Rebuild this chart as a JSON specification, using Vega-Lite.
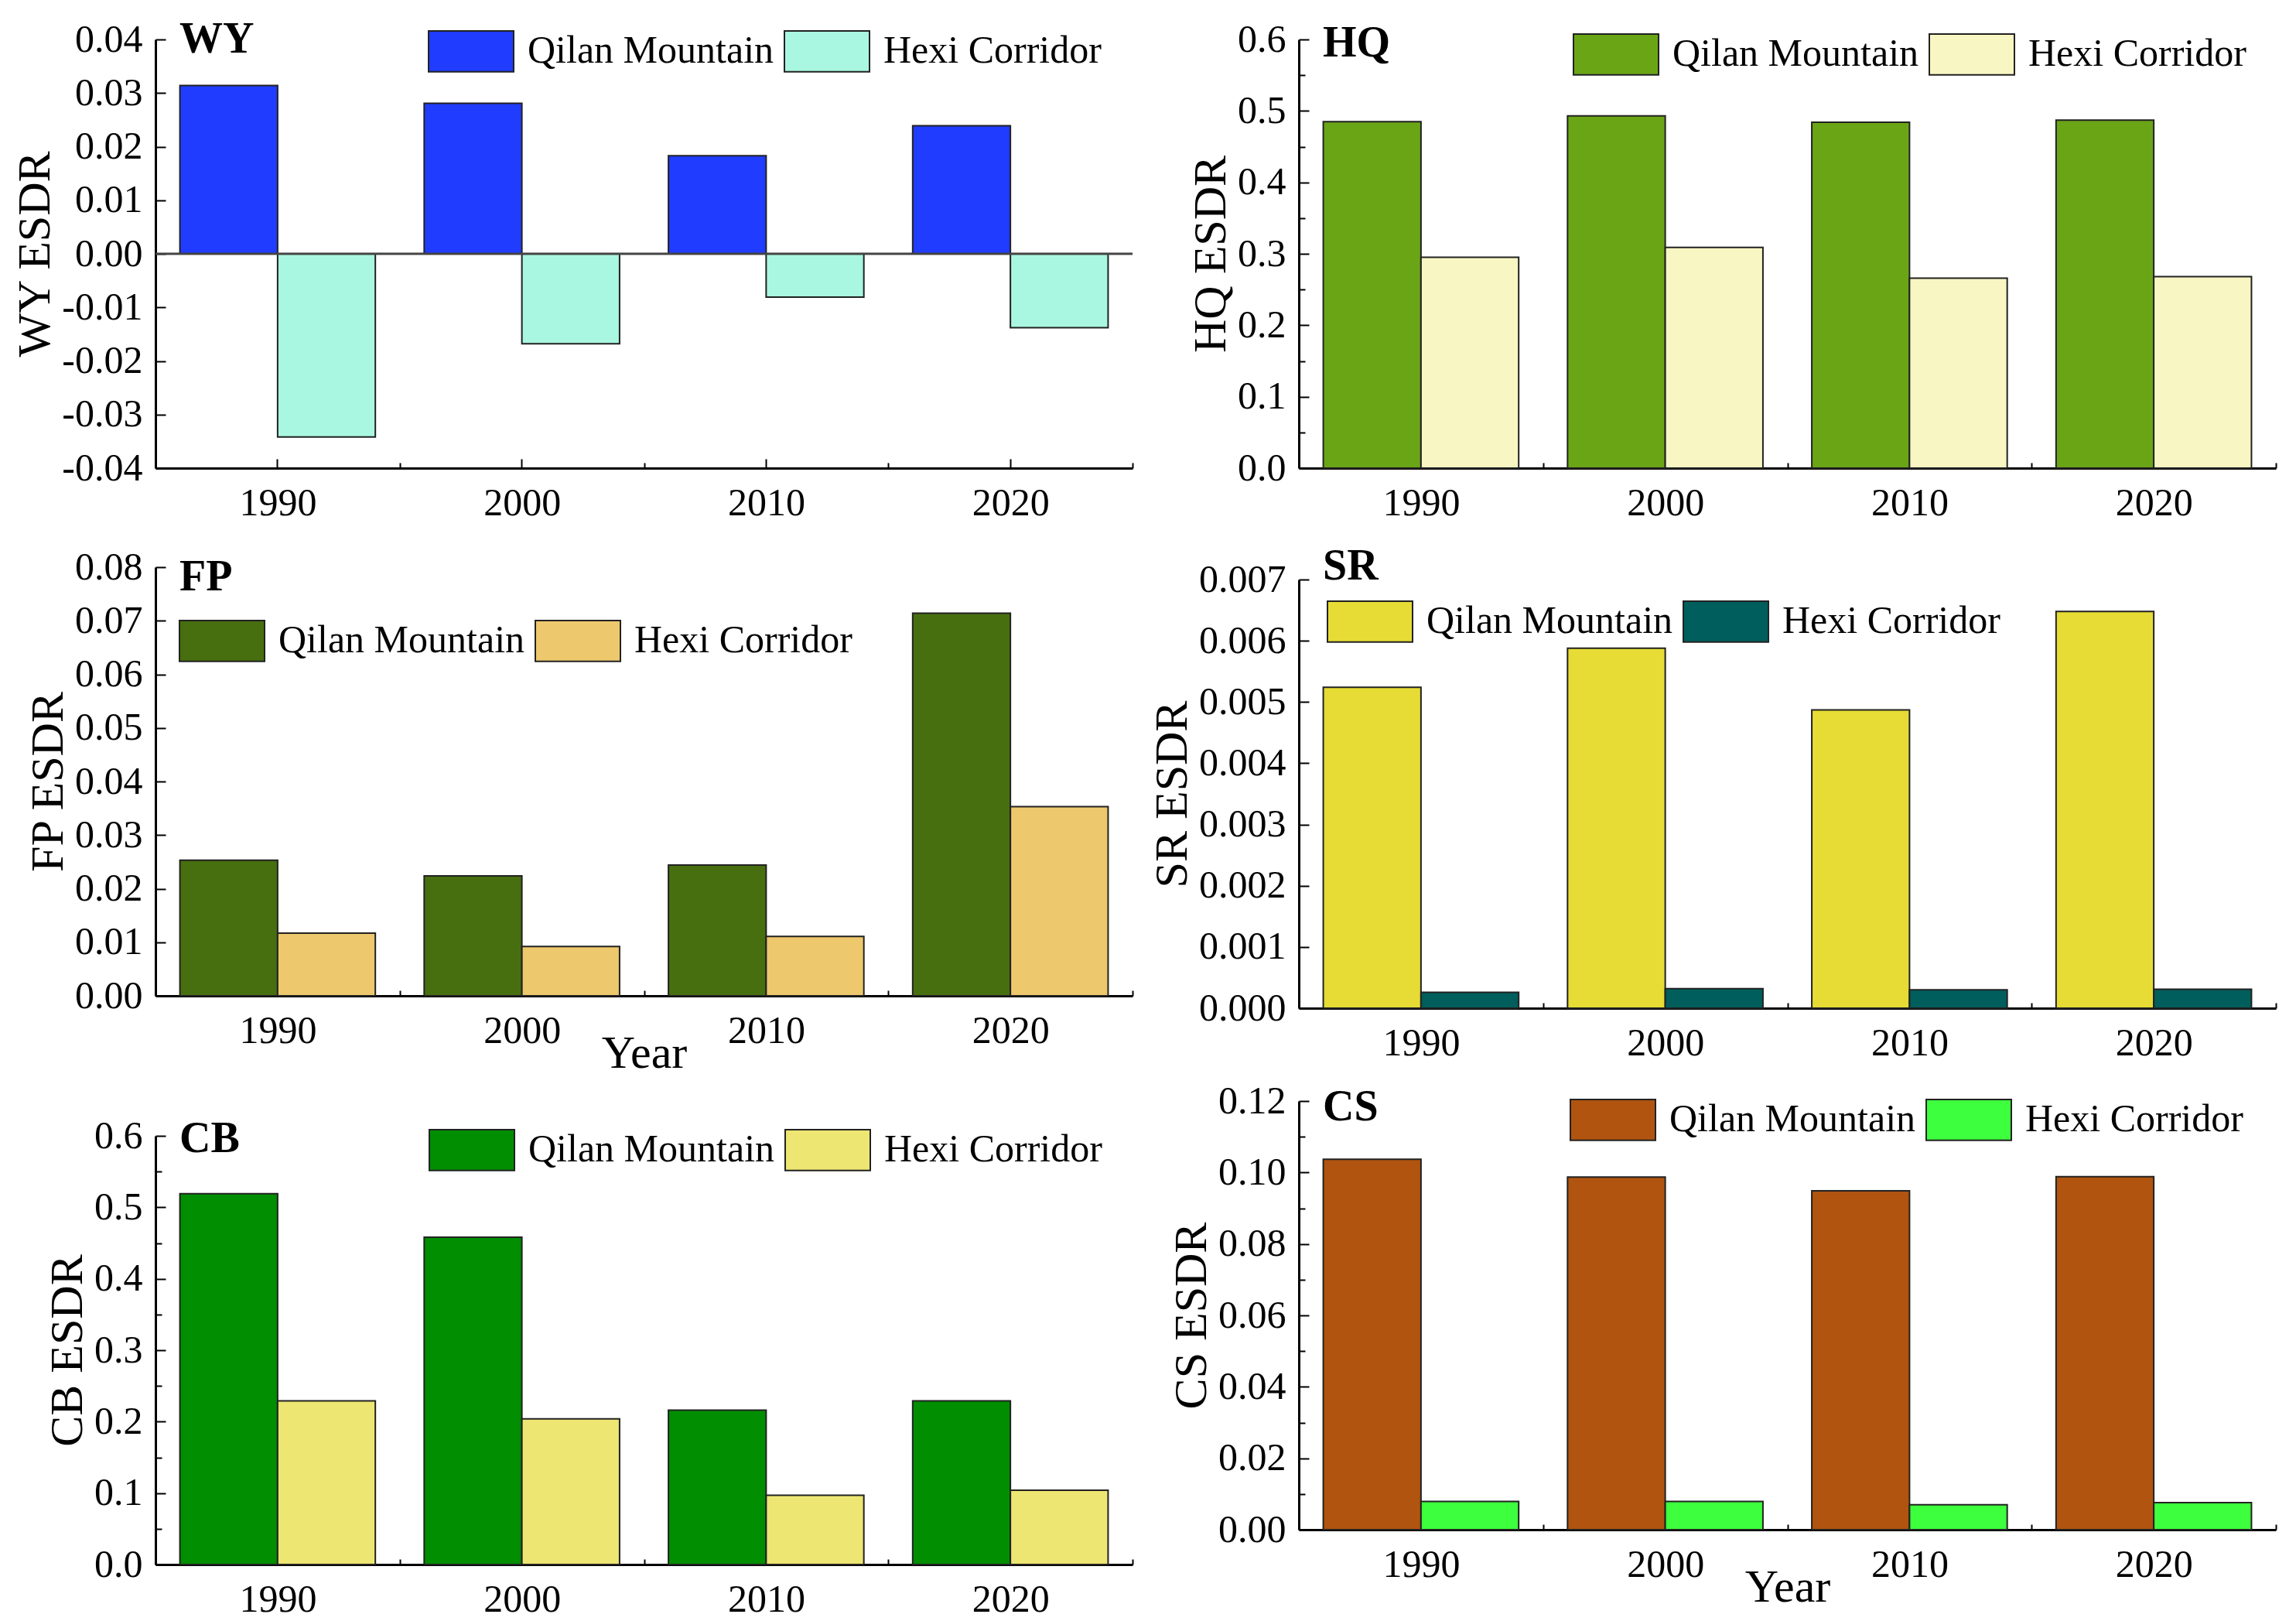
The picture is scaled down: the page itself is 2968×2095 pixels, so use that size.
{
  "$schema": "https://vega.github.io/schema/vega-lite/v6.json",
  "padding": {"left": 15, "top": 10, "right": 5, "bottom": 5},
  "background": "white",
  "datasets": {
    "esdr": [
      {"service": "WY", "year": "1990", "region": "Qilan Mountain", "value": 0.0314},
      {"service": "WY", "year": "2000", "region": "Qilan Mountain", "value": 0.0281},
      {"service": "WY", "year": "2010", "region": "Qilan Mountain", "value": 0.0183},
      {"service": "WY", "year": "2020", "region": "Qilan Mountain", "value": 0.0239},
      {"service": "WY", "year": "1990", "region": "Hexi Corridor", "value": -0.0342},
      {"service": "WY", "year": "2000", "region": "Hexi Corridor", "value": -0.0168},
      {"service": "WY", "year": "2010", "region": "Hexi Corridor", "value": -0.0081},
      {"service": "WY", "year": "2020", "region": "Hexi Corridor", "value": -0.0138},
      {"service": "HQ", "year": "1990", "region": "Qilan Mountain", "value": 0.485},
      {"service": "HQ", "year": "2000", "region": "Qilan Mountain", "value": 0.493},
      {"service": "HQ", "year": "2010", "region": "Qilan Mountain", "value": 0.484},
      {"service": "HQ", "year": "2020", "region": "Qilan Mountain", "value": 0.487},
      {"service": "HQ", "year": "1990", "region": "Hexi Corridor", "value": 0.295},
      {"service": "HQ", "year": "2000", "region": "Hexi Corridor", "value": 0.309},
      {"service": "HQ", "year": "2010", "region": "Hexi Corridor", "value": 0.266},
      {"service": "HQ", "year": "2020", "region": "Hexi Corridor", "value": 0.268},
      {"service": "FP", "year": "1990", "region": "Qilan Mountain", "value": 0.0253},
      {"service": "FP", "year": "2000", "region": "Qilan Mountain", "value": 0.0224},
      {"service": "FP", "year": "2010", "region": "Qilan Mountain", "value": 0.0244},
      {"service": "FP", "year": "2020", "region": "Qilan Mountain", "value": 0.0714},
      {"service": "FP", "year": "1990", "region": "Hexi Corridor", "value": 0.0117},
      {"service": "FP", "year": "2000", "region": "Hexi Corridor", "value": 0.0092},
      {"service": "FP", "year": "2010", "region": "Hexi Corridor", "value": 0.0111},
      {"service": "FP", "year": "2020", "region": "Hexi Corridor", "value": 0.0353},
      {"service": "SR", "year": "1990", "region": "Qilan Mountain", "value": 0.00524},
      {"service": "SR", "year": "2000", "region": "Qilan Mountain", "value": 0.00588},
      {"service": "SR", "year": "2010", "region": "Qilan Mountain", "value": 0.00487},
      {"service": "SR", "year": "2020", "region": "Qilan Mountain", "value": 0.00648},
      {"service": "SR", "year": "1990", "region": "Hexi Corridor", "value": 0.00026},
      {"service": "SR", "year": "2000", "region": "Hexi Corridor", "value": 0.00032},
      {"service": "SR", "year": "2010", "region": "Hexi Corridor", "value": 0.0003},
      {"service": "SR", "year": "2020", "region": "Hexi Corridor", "value": 0.00031},
      {"service": "CB", "year": "1990", "region": "Qilan Mountain", "value": 0.519},
      {"service": "CB", "year": "2000", "region": "Qilan Mountain", "value": 0.458},
      {"service": "CB", "year": "2010", "region": "Qilan Mountain", "value": 0.216},
      {"service": "CB", "year": "2020", "region": "Qilan Mountain", "value": 0.229},
      {"service": "CB", "year": "1990", "region": "Hexi Corridor", "value": 0.229},
      {"service": "CB", "year": "2000", "region": "Hexi Corridor", "value": 0.204},
      {"service": "CB", "year": "2010", "region": "Hexi Corridor", "value": 0.097},
      {"service": "CB", "year": "2020", "region": "Hexi Corridor", "value": 0.104},
      {"service": "CS", "year": "1990", "region": "Qilan Mountain", "value": 0.1037},
      {"service": "CS", "year": "2000", "region": "Qilan Mountain", "value": 0.0987},
      {"service": "CS", "year": "2010", "region": "Qilan Mountain", "value": 0.0949},
      {"service": "CS", "year": "2020", "region": "Qilan Mountain", "value": 0.0988},
      {"service": "CS", "year": "1990", "region": "Hexi Corridor", "value": 0.0079},
      {"service": "CS", "year": "2000", "region": "Hexi Corridor", "value": 0.0079},
      {"service": "CS", "year": "2010", "region": "Hexi Corridor", "value": 0.007},
      {"service": "CS", "year": "2020", "region": "Hexi Corridor", "value": 0.0076}
    ]
  },
  "hconcat": [
    {
      "vconcat": [
        {
          "width": 1263, "height": 554,
          "resolve": {"axis": {"x": "independent"}},
          "layer": [
            {
              "data": {"name": "esdr"},
              "transform": [{"filter": "datum.service === 'WY'"}],
              "mark": {"type": "bar", "stroke": "#222", "strokeWidth": 2},
              "encoding": {
                "x": {"field": "year", "type": "nominal", "scale": {"paddingInner": 0, "paddingOuter": 0}, "axis": {"title": null}},
                "xOffset": {"field": "region", "type": "nominal", "sort": ["Qilan Mountain", "Hexi Corridor"], "scale": {"paddingInner": 0, "paddingOuter": 0.25}},
                "y": {"field": "value", "type": "quantitative", "scale": {"domain": [-0.04, 0.04], "nice": false},
                  "axis": {"title": "WY ESDR",
                    "values": [-0.04, -0.035, -0.03, -0.025, -0.02, -0.015, -0.01, -0.005, 0, 0.005, 0.01, 0.015, 0.02, 0.025, 0.03, 0.035, 0.04],
                    "labelExpr": "abs(round(datum.value*200)) % 2 == 0 ? replace(format(datum.value, '.2f'), '\u2212', '-') : ''",
                    "tickSize": {"condition": {"test": "abs(round(datum.value*200)) % 2 == 0", "value": -13}, "value": -8}}},
                "color": {"field": "region", "type": "nominal", "sort": ["Qilan Mountain", "Hexi Corridor"],
                  "scale": {"domain": ["Qilan Mountain", "Hexi Corridor"], "range": ["#203CFF", "#A9F7E0"]},
                  "legend": {"orient": "none", "legendX": 352, "legendY": -41}}
              }
            },
            {"data": {"values": [{}]}, "mark": {"type": "rule", "color": "#444", "strokeWidth": 3}, "encoding": {"y": {"datum": 0}}},
            {"data": {"values": [{}]}, "mark": {"type": "text", "text": "WY", "fontSize": 56, "fontWeight": "bold", "align": "left", "baseline": "middle", "dx": 31, "dy": 0},
              "encoding": {"x": {"datum": "1990", "bandPosition": 0, "axis": {"orient": "bottom", "labels": false, "domain": false, "title": null, "tickBand": "center", "tickSize": -12}}, "y": {"datum": 0.04}}}
          ]
        },
        {
          "vconcat": [
            {
              "width": 1263, "height": 554,
              "resolve": {"axis": {"x": "independent"}},
              "layer": [
                {
                  "data": {"name": "esdr"},
                  "transform": [{"filter": "datum.service === 'FP'"}],
                  "mark": {"type": "bar", "stroke": "#222", "strokeWidth": 2},
                  "encoding": {
                    "x": {"field": "year", "type": "nominal", "scale": {"paddingInner": 0, "paddingOuter": 0}, "axis": {"title": "Year", "titlePadding": -25}},
                    "xOffset": {"field": "region", "type": "nominal", "sort": ["Qilan Mountain", "Hexi Corridor"], "scale": {"paddingInner": 0, "paddingOuter": 0.25}},
                    "y": {"field": "value", "type": "quantitative", "scale": {"domain": [0, 0.08], "nice": false},
                      "axis": {"title": "FP ESDR",
                        "values": [0, 0.005, 0.01, 0.015, 0.02, 0.025, 0.03, 0.035, 0.04, 0.045, 0.05, 0.055, 0.06, 0.065, 0.07, 0.075, 0.08],
                        "labelExpr": "round(datum.value*200) % 2 == 0 ? format(datum.value, '.2f') : ''",
                        "tickSize": {"condition": {"test": "round(datum.value*200) % 2 == 0", "value": -13}, "value": -8}}},
                    "color": {"field": "region", "type": "nominal", "sort": ["Qilan Mountain", "Hexi Corridor"],
                      "scale": {"domain": ["Qilan Mountain", "Hexi Corridor"], "range": ["#476F0F", "#EDC86D"]},
                      "legend": {"orient": "none", "legendX": 30, "legendY": 39}}
                  }
                },
                {"data": {"values": [{}]}, "mark": {"type": "text", "text": "FP", "fontSize": 56, "fontWeight": "bold", "align": "left", "baseline": "middle", "dx": 31, "dy": 13},
                  "encoding": {"x": {"datum": "1990", "bandPosition": 0, "axis": {"orient": "bottom", "labels": false, "domain": false, "title": null, "tickBand": "center", "tickSize": -12}}, "y": {"datum": 0.08}}}
              ]
            },
            {
              "width": 1263, "height": 554,
              "resolve": {"axis": {"x": "independent"}},
              "layer": [
                {
                  "data": {"name": "esdr"},
                  "transform": [{"filter": "datum.service === 'CB'"}],
                  "mark": {"type": "bar", "stroke": "#222", "strokeWidth": 2},
                  "encoding": {
                    "x": {"field": "year", "type": "nominal", "scale": {"paddingInner": 0, "paddingOuter": 0}, "axis": {"title": null}},
                    "xOffset": {"field": "region", "type": "nominal", "sort": ["Qilan Mountain", "Hexi Corridor"], "scale": {"paddingInner": 0, "paddingOuter": 0.25}},
                    "y": {"field": "value", "type": "quantitative", "scale": {"domain": [0, 0.6], "nice": false},
                      "axis": {"title": "CB ESDR",
                        "values": [0, 0.05, 0.1, 0.15, 0.2, 0.25, 0.3, 0.35, 0.4, 0.45, 0.5, 0.55, 0.6],
                        "labelExpr": "round(datum.value*20) % 2 == 0 ? format(datum.value, '.1f') : ''",
                        "tickSize": {"condition": {"test": "round(datum.value*20) % 2 == 0", "value": -13}, "value": -8}}},
                    "color": {"field": "region", "type": "nominal", "sort": ["Qilan Mountain", "Hexi Corridor"],
                      "scale": {"domain": ["Qilan Mountain", "Hexi Corridor"], "range": ["#018E01", "#EDE672"]},
                      "legend": {"orient": "none", "legendX": 353, "legendY": -38}}
                  }
                },
                {"data": {"values": [{}]}, "mark": {"type": "text", "text": "CB", "fontSize": 56, "fontWeight": "bold", "align": "left", "baseline": "middle", "dx": 31, "dy": 4},
                  "encoding": {"x": {"datum": "1990", "bandPosition": 0, "axis": {"orient": "bottom", "labels": false, "domain": false, "title": null, "tickBand": "center", "tickSize": -12}}, "y": {"datum": 0.6}}}
              ]
            }
          ],
          "spacing": 181,
          "bounds": "flush",
          "resolve": {"scale": {"color": "independent", "xOffset": "independent"}}
        }
      ],
      "spacing": 128,
      "bounds": "flush",
      "resolve": {"scale": {"color": "independent", "xOffset": "independent"}}
    },
    {
      "vconcat": [
        {
          "width": 1263, "height": 554,
          "resolve": {"axis": {"x": "independent"}},
          "layer": [
            {
              "data": {"name": "esdr"},
              "transform": [{"filter": "datum.service === 'HQ'"}],
              "mark": {"type": "bar", "stroke": "#222", "strokeWidth": 2},
              "encoding": {
                "x": {"field": "year", "type": "nominal", "scale": {"paddingInner": 0, "paddingOuter": 0}, "axis": {"title": null}},
                "xOffset": {"field": "region", "type": "nominal", "sort": ["Qilan Mountain", "Hexi Corridor"], "scale": {"paddingInner": 0, "paddingOuter": 0.25}},
                "y": {"field": "value", "type": "quantitative", "scale": {"domain": [0, 0.6], "nice": false},
                  "axis": {"title": "HQ ESDR",
                    "values": [0, 0.05, 0.1, 0.15, 0.2, 0.25, 0.3, 0.35, 0.4, 0.45, 0.5, 0.55, 0.6],
                    "labelExpr": "round(datum.value*20) % 2 == 0 ? format(datum.value, '.1f') : ''",
                    "tickSize": {"condition": {"test": "round(datum.value*20) % 2 == 0", "value": -13}, "value": -8}}},
                "color": {"field": "region", "type": "nominal", "sort": ["Qilan Mountain", "Hexi Corridor"],
                  "scale": {"domain": ["Qilan Mountain", "Hexi Corridor"], "range": ["#6AA516", "#F8F6C3"]},
                  "legend": {"orient": "none", "legendX": 354, "legendY": -37}}
              }
            },
            {"data": {"values": [{}]}, "mark": {"type": "text", "text": "HQ", "fontSize": 56, "fontWeight": "bold", "align": "left", "baseline": "middle", "dx": 31, "dy": 5},
              "encoding": {"x": {"datum": "1990", "bandPosition": 0, "axis": {"orient": "bottom", "labels": false, "domain": false, "title": null, "tickBand": "center", "tickSize": -12}}, "y": {"datum": 0.6}}}
          ]
        },
        {
          "vconcat": [
            {
              "width": 1263, "height": 554,
              "resolve": {"axis": {"x": "independent"}},
              "layer": [
                {
                  "data": {"name": "esdr"},
                  "transform": [{"filter": "datum.service === 'SR'"}],
                  "mark": {"type": "bar", "stroke": "#222", "strokeWidth": 2},
                  "encoding": {
                    "x": {"field": "year", "type": "nominal", "scale": {"paddingInner": 0, "paddingOuter": 0}, "axis": {"title": null}},
                    "xOffset": {"field": "region", "type": "nominal", "sort": ["Qilan Mountain", "Hexi Corridor"], "scale": {"paddingInner": 0, "paddingOuter": 0.25}},
                    "y": {"field": "value", "type": "quantitative", "scale": {"domain": [0, 0.007], "nice": false},
                      "axis": {"title": "SR ESDR",
                        "values": [0, 0.0005, 0.001, 0.0015, 0.002, 0.0025, 0.003, 0.0035, 0.004, 0.0045, 0.005, 0.0055, 0.006, 0.0065, 0.007],
                        "labelExpr": "round(datum.value*2000) % 2 == 0 ? format(datum.value, '.3f') : ''",
                        "tickSize": {"condition": {"test": "round(datum.value*2000) % 2 == 0", "value": -13}, "value": -8}}},
                    "color": {"field": "region", "type": "nominal", "sort": ["Qilan Mountain", "Hexi Corridor"],
                      "scale": {"domain": ["Qilan Mountain", "Hexi Corridor"], "range": ["#E6DC35", "#005E5C"]},
                      "legend": {"orient": "none", "legendX": 36, "legendY": -2}}
                  }
                },
                {"data": {"values": [{}]}, "mark": {"type": "text", "text": "SR", "fontSize": 56, "fontWeight": "bold", "align": "left", "baseline": "middle", "dx": 31, "dy": -17},
                  "encoding": {"x": {"datum": "1990", "bandPosition": 0, "axis": {"orient": "bottom", "labels": false, "domain": false, "title": null, "tickBand": "center", "tickSize": -12}}, "y": {"datum": 0.007}}}
              ]
            },
            {
              "width": 1263, "height": 554,
              "resolve": {"axis": {"x": "independent"}},
              "layer": [
                {
                  "data": {"name": "esdr"},
                  "transform": [{"filter": "datum.service === 'CS'"}],
                  "mark": {"type": "bar", "stroke": "#222", "strokeWidth": 2},
                  "encoding": {
                    "x": {"field": "year", "type": "nominal", "scale": {"paddingInner": 0, "paddingOuter": 0}, "axis": {"title": "Year", "titlePadding": -25}},
                    "xOffset": {"field": "region", "type": "nominal", "sort": ["Qilan Mountain", "Hexi Corridor"], "scale": {"paddingInner": 0, "paddingOuter": 0.25}},
                    "y": {"field": "value", "type": "quantitative", "scale": {"domain": [0, 0.12], "nice": false},
                      "axis": {"title": "CS ESDR",
                        "values": [0, 0.01, 0.02, 0.03, 0.04, 0.05, 0.06, 0.07, 0.08, 0.09, 0.1, 0.11, 0.12],
                        "labelExpr": "round(datum.value*100) % 2 == 0 ? format(datum.value, '.2f') : ''",
                        "tickSize": {"condition": {"test": "round(datum.value*100) % 2 == 0", "value": -13}, "value": -8}}},
                    "color": {"field": "region", "type": "nominal", "sort": ["Qilan Mountain", "Hexi Corridor"],
                      "scale": {"domain": ["Qilan Mountain", "Hexi Corridor"], "range": ["#B05410", "#3DFF3D"]},
                      "legend": {"orient": "none", "legendX": 350, "legendY": -32}}
                  }
                },
                {"data": {"values": [{}]}, "mark": {"type": "text", "text": "CS", "fontSize": 56, "fontWeight": "bold", "align": "left", "baseline": "middle", "dx": 31, "dy": 8},
                  "encoding": {"x": {"datum": "1990", "bandPosition": 0, "axis": {"orient": "bottom", "labels": false, "domain": false, "title": null, "tickBand": "center", "tickSize": -12}}, "y": {"datum": 0.12}}}
              ]
            }
          ],
          "spacing": 120,
          "bounds": "flush",
          "resolve": {"scale": {"color": "independent", "xOffset": "independent"}}
        }
      ],
      "spacing": 144,
      "bounds": "flush",
      "resolve": {"scale": {"color": "independent", "xOffset": "independent"}}
    }
  ],
  "spacing": 1478,
  "bounds": "flush",
  "resolve": {"scale": {"color": "independent", "xOffset": "independent"}},
  "config": {
    "font": "Liberation Serif",
    "view": {"stroke": null},
    "text": {"font": "Liberation Serif", "color": "black"},
    "axis": {
      "labelFont": "Liberation Serif", "titleFont": "Liberation Serif",
      "labelFontSize": 50, "titleFontSize": 60, "titleFontWeight": "normal",
      "labelColor": "black", "titleColor": "black",
      "domainColor": "black", "domainWidth": 3, "tickColor": "black", "tickWidth": 2,
      "grid": false, "titlePadding": 3
    },
    "axisX": {"tickBand": "extent", "tickSize": -7, "labelAngle": 0, "labelPadding": 27, "labelBaseline": "top"},
    "axisY": {"labelPadding": 30},
    "legend": {
      "direction": "horizontal", "title": null,
      "symbolType": "M-1,-0.48H1V0.48H-1Z", "symbolSize": 12100,
      "symbolStrokeColor": "#222", "symbolStrokeWidth": 2, "symbolOpacity": 1,
      "labelFont": "Liberation Serif", "labelFontSize": 50, "labelColor": "black",
      "labelOffset": 17, "columnPadding": 9, "padding": 0, "labelLimit": 0
    }
  }
}
